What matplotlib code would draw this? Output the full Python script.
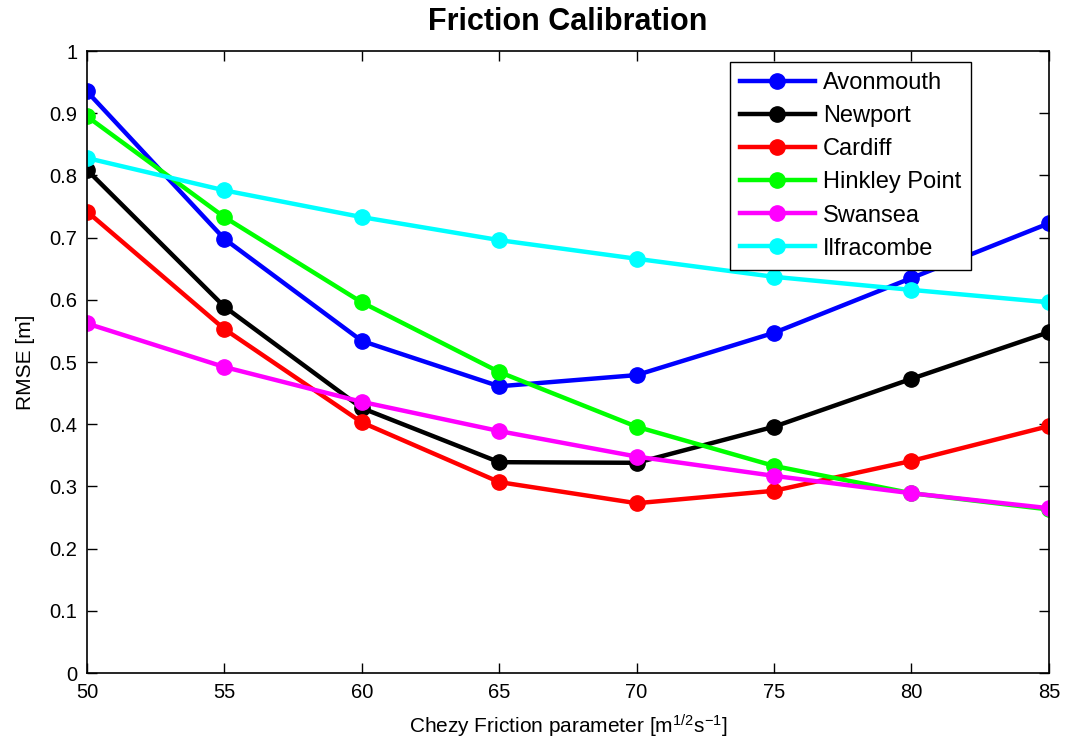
import numpy as np
import matplotlib.pyplot as plt
from matplotlib.ticker import FuncFormatter

plt.switch_backend('Agg')
plt.rcParams['font.family'] = ['Liberation Sans', 'DejaVu Sans']
plt.rcParams['mathtext.fontset'] = 'custom'
plt.rcParams['mathtext.rm'] = 'Liberation Sans'
plt.rcParams['mathtext.it'] = 'Liberation Sans'

# Chezy friction values
chezy = [50, 55, 60, 65, 70, 75, 80, 85]

# RMSE [m] per station
avonmouth = [0.935, 0.698, 0.534, 0.461, 0.479, 0.547, 0.635, 0.723]
newport = [0.809, 0.589, 0.426, 0.339, 0.338, 0.396, 0.473, 0.548]
cardiff = [0.742, 0.553, 0.403, 0.307, 0.273, 0.293, 0.341, 0.397]
hinkley = [0.895, 0.733, 0.596, 0.484, 0.396, 0.333, 0.289, 0.263]
swansea = [0.562, 0.492, 0.436, 0.389, 0.348, 0.317, 0.289, 0.265]
ilfracombe = [0.828, 0.776, 0.733, 0.696, 0.666, 0.637, 0.616, 0.596]

series = [
    ('Avonmouth', avonmouth, '#0000ff'),
    ('Newport', newport, '#000000'),
    ('Cardiff', cardiff, '#ff0000'),
    ('Hinkley Point', hinkley, '#00ff00'),
    ('Swansea', swansea, '#ff00ff'),
    ('Ilfracombe', ilfracombe, '#00ffff'),
]

fig = plt.figure(figsize=(10.67, 7.44), dpi=100)
ax = fig.add_axes([0.0815, 0.0954, 0.9015, 0.836])

for name, vals, col in series:
    ax.plot(chezy, vals, '-o', color=col, lw=3.2, ms=11, label=name)

ax.set_xlim(50, 85)
ax.set_ylim(0, 1)
ax.set_xticks(np.arange(50, 86, 5))
ax.set_yticks(np.arange(0, 1.01, 0.1))
ax.yaxis.set_major_formatter(FuncFormatter(lambda v, p: f'{v:g}'))
ax.tick_params(direction='in', top=True, right=True, labelsize=14.5, length=7, width=1, pad=7)
for s in ax.spines.values():
    s.set_linewidth(1.2)

ax.set_title('Friction Calibration', fontsize=22, fontweight='bold', pad=15)
ax.set_xlabel(r'Chezy Friction parameter [m$^{1/2}$s$^{-1}$]', fontsize=15, labelpad=8)
ax.set_ylabel('RMSE [m]', fontsize=15, labelpad=10)

leg = ax.legend(loc='upper right', bbox_to_anchor=(0.919, 0.982), fontsize=17,
                fancybox=False, edgecolor='black', framealpha=1,
                handlelength=3.15, borderpad=0.42, labelspacing=0.47, handletextpad=0.35,
                borderaxespad=0)
leg.get_frame().set_linewidth(1.0)

fig.savefig('out.png', dpi=100)
plt.close(fig)
